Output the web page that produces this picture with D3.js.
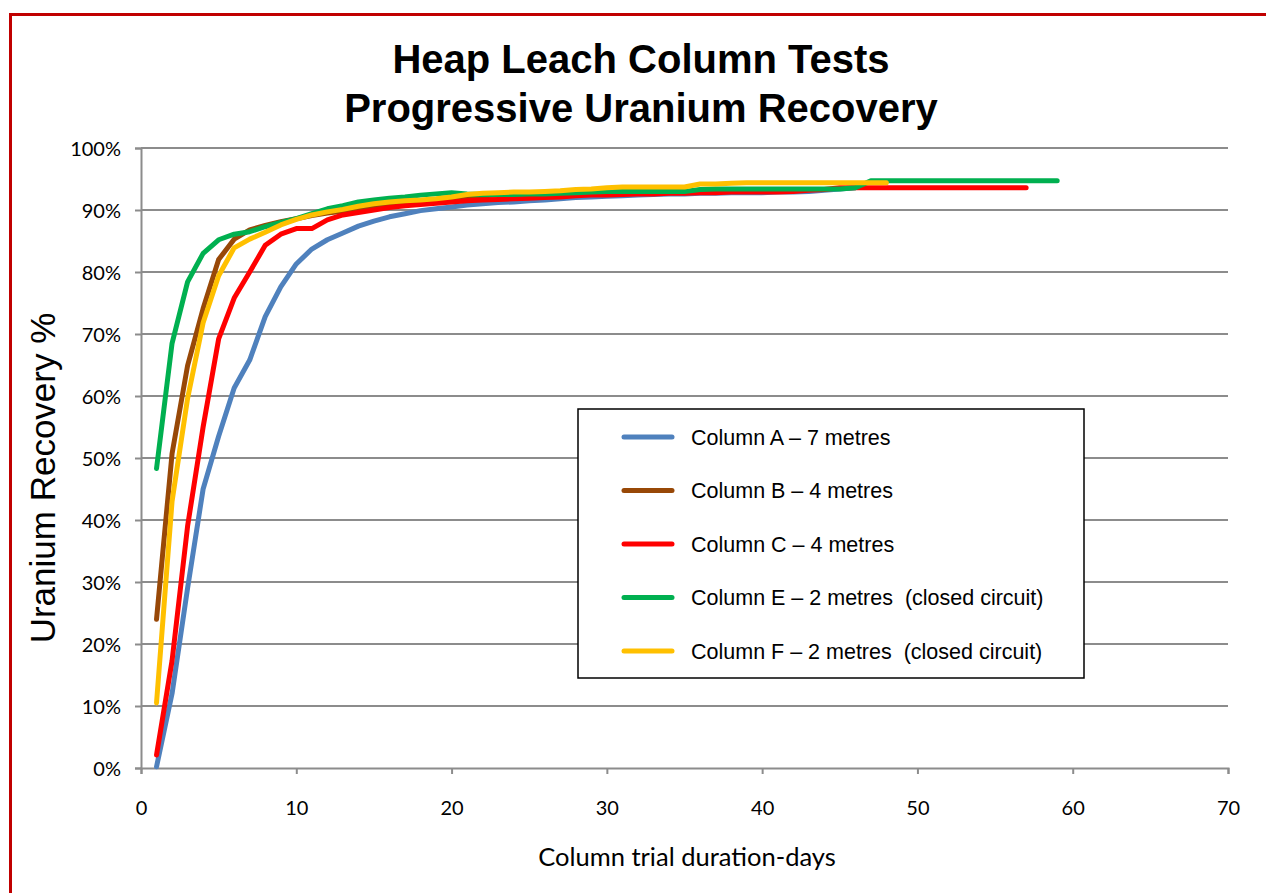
<!DOCTYPE html>
<html>
<head>
<meta charset="utf-8">
<script src="https://cdn.jsdelivr.net/npm/d3@7"></script>
<style>
  body { margin: 0; background: #fff; }
  svg { display: block; }
</style>
</head>
<body>
<div class="canvas"></div>
<script>
// recovery % per day, each series starts at day 1
const colA = [0.2, 12, 29, 45, 53.5, 61.3, 65.8, 72.8, 77.6, 81.3,
  83.7, 85.2, 86.3, 87.4, 88.2, 88.9, 89.4, 89.9, 90.2, 90.5,
  90.8, 91.0, 91.2, 91.3, 91.5, 91.6, 91.8, 92.0, 92.1, 92.2,
  92.3, 92.4, 92.5, 92.6, 92.6, 92.7, 92.7, 92.8, 92.8, 92.8,
  92.9, 92.9, 93.0, 93.2, 93.4, 93.6];
const colB = [24, 50.7, 64.9, 74.1, 82, 85.3, 86.8, 87.5, 88.1, 88.6,
  89.1, 89.5, 89.8, 90.2, 90.6, 90.9, 91.2, 91.4, 91.6, 91.9,
  92.1, 92.3, 92.4, 92.5, 92.6, 92.7, 92.8, 92.9, 93.0, 93.0,
  93.1, 93.1, 93.2, 93.2, 93.2];
const colC = [2.1, 17.3, 39, 55, 69.2, 75.8, 80, 84.3, 86.1, 87,
  87, 88.4, 89.2, 89.6, 90.0, 90.4, 90.7, 90.9, 91.1, 91.3,
  91.5, 91.6, 91.7, 91.8, 91.9, 92.0, 92.1, 92.3, 92.4, 92.4,
  92.5, 92.6, 92.6, 92.7, 92.7, 92.8, 92.8, 92.9, 92.9, 92.9,
  92.9, 93.0, 93.2, 93.3, 93.6, 93.6, 93.6, 93.6, 93.6, 93.6,
  93.6, 93.6, 93.6, 93.6, 93.6, 93.6, 93.6];
const colE = [48.3, 68.5, 78.4, 83, 85.2, 86.1, 86.5, 87.3, 88, 88.6,
  89.4, 90.2, 90.7, 91.3, 91.6, 91.9, 92.1, 92.4, 92.6, 92.8,
  92.6, 92.5, 92.5, 92.5, 92.6, 92.6, 92.7, 92.8, 92.9, 93.0,
  93.0, 93.0, 93.0, 93.0, 93.0, 93.3, 93.4, 93.4, 93.4, 93.4,
  93.4, 93.4, 93.4, 93.4, 93.4, 93.6, 94.7, 94.7, 94.7, 94.7,
  94.7, 94.7, 94.7, 94.7, 94.7, 94.7, 94.7, 94.7, 94.7];
const colF = [10.5, 43, 59.6, 71.8, 79.4, 83.9, 85.3, 86.4, 87.6, 88.5,
  89.2, 89.7, 90.1, 90.6, 91.0, 91.3, 91.5, 91.6, 91.8, 92.1,
  92.5, 92.7, 92.8, 92.9, 92.9, 93.0, 93.1, 93.3, 93.4, 93.6,
  93.7, 93.7, 93.7, 93.7, 93.7, 94.2, 94.2, 94.3, 94.4, 94.4,
  94.4, 94.4, 94.4, 94.4, 94.4, 94.4, 94.4, 94.4];

const seriesNames = ['Column A \u2013 7 metres', 'Column B \u2013 4 metres',
  'Column C \u2013 4 metres', 'Column E \u2013 2 metres  (closed circuit)',
  'Column F \u2013 2 metres  (closed circuit)'];
const seriesValues = [colA, colB, colC, colE, colF];
const seriesColors = ['#4f81bd', '#984807', '#ff0000', '#00b050', '#ffc000'];

const xTicks = [0, 10, 20, 30, 40, 50, 60, 70];
const yTicks = [0, 10, 20, 30, 40, 50, 60, 70, 80, 90, 100];

const width = 1266, height = 893;
const svg = d3.select('.canvas')
  .append('svg')
  .attr('width', width)
  .attr('height', height);

// red frame, runs off the right and bottom
svg.append('rect')
  .attr('x', 10.5).attr('y', 14.5)
  .attr('width', 1300).attr('height', 1000)
  .attr('fill', 'none')
  .attr('stroke', '#c00000')
  .attr('stroke-width', 3);

const margin = {top: 148, right: 38, bottom: 125, left: 141};
const graphWidth = width - margin.left - margin.right;
const graphHeight = height - margin.top - margin.bottom;

const graph = svg.append('g')
  .attr('transform', `translate(${margin.left},${margin.top})`);

const x = d3.scaleLinear().domain([0, 70]).range([0, graphWidth]);
const y = d3.scaleLinear().domain([0, 100]).range([graphHeight, 0]);

// gridlines
graph.append('g')
  .selectAll('line')
  .data(yTicks.filter(d => d > 0))
  .enter().append('line')
  .attr('x1', 0).attr('x2', graphWidth)
  .attr('y1', d => y(d)).attr('y2', d => y(d))
  .attr('stroke', '#8c8c8c')
  .attr('stroke-width', 2);

// axes
const yAxis = d3.axisLeft(y)
  .tickValues(yTicks)
  .tickSize(6)
  .tickPadding(14)
  .tickFormat(d => d + '%');
const xAxis = d3.axisBottom(x)
  .tickValues(xTicks)
  .tickSize(6)
  .tickPadding(27);

const yAxisGroup = graph.append('g').call(yAxis);
const xAxisGroup = graph.append('g')
  .attr('transform', `translate(0,${graphHeight})`)
  .call(xAxis);

[xAxisGroup, yAxisGroup].forEach(g => {
  g.select('.domain').attr('stroke', '#8c8c8c').attr('stroke-width', 2);
  g.selectAll('.tick line').attr('stroke', '#8c8c8c').attr('stroke-width', 2);
  g.selectAll('.tick text')
    .attr('fill', '#000')
    .style('font-family', 'Lato, "Open Sans", sans-serif')
    .style('font-size', '20px');
});
yAxisGroup.selectAll('.tick text').attr('dy', '0.36em');

// lines
const line = d3.line()
  .x((d, i) => x(i + 1))
  .y(d => y(d));

graph.append('g')
  .selectAll('path')
  .data(seriesValues)
  .enter().append('path')
  .attr('d', d => line(d))
  .attr('fill', 'none')
  .attr('stroke', (d, i) => seriesColors[i])
  .attr('stroke-width', 5)
  .attr('stroke-linejoin', 'round')
  .attr('stroke-linecap', 'round');

// titles
const title = svg.append('text')
  .attr('text-anchor', 'middle')
  .style('font-family', '"Liberation Sans", Arial, sans-serif')
  .style('font-weight', 'bold')
  .style('font-size', '40px');
title.append('tspan').attr('x', 641).attr('y', 73).text('Heap Leach Column Tests');
title.append('tspan').attr('x', 641).attr('y', 122).text('Progressive Uranium Recovery');

svg.append('text')
  .attr('transform', 'translate(55,478) rotate(-90)')
  .attr('text-anchor', 'middle')
  .style('font-family', '"Liberation Sans", Arial, sans-serif')
  .style('font-size', '35px')
  .text('Uranium Recovery %');

svg.append('text')
  .attr('x', 687).attr('y', 866)
  .attr('text-anchor', 'middle')
  .style('font-family', 'Lato, "Open Sans", sans-serif')
  .style('font-size', '25.5px')
  .text('Column trial duration-days');

// legend
const legend = svg.append('g').attr('transform', 'translate(578,409)');
legend.append('rect')
  .attr('width', 506).attr('height', 269)
  .attr('fill', '#fff')
  .attr('stroke', '#000')
  .attr('stroke-width', 1.5);

const items = legend.selectAll('g.item')
  .data(seriesNames)
  .enter().append('g')
  .attr('class', 'item')
  .attr('transform', (d, i) => `translate(0,${28 + i * 53.5})`);

items.append('line')
  .attr('x1', 46).attr('x2', 94)
  .attr('stroke', (d, i) => seriesColors[i])
  .attr('stroke-width', 5)
  .attr('stroke-linecap', 'round');

items.append('text')
  .attr('x', 113)
  .attr('dy', '0.35em')
  .attr('xml:space', 'preserve')
  .style('white-space', 'pre')
  .style('font-family', '"Liberation Sans", Arial, sans-serif')
  .style('font-size', '21.5px')
  .text(d => d);
</script>
</body>
</html>
